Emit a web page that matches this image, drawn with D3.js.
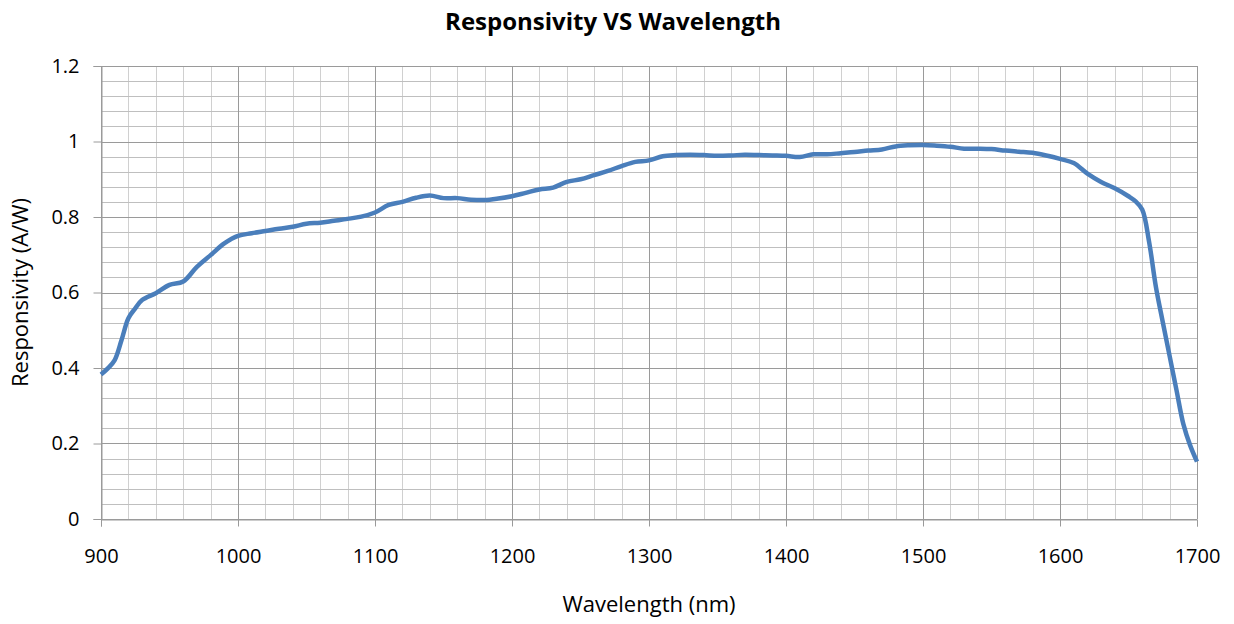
<!DOCTYPE html>
<html>
<head>
<meta charset="utf-8">
<script src="https://cdn.jsdelivr.net/npm/d3@7"></script>
<style>
  body { margin: 0; background: #fff; }
  svg { display: block; font-family: "Open Sans", sans-serif; }
  .title { font-size: 24px; font-weight: bold; fill: #000; }
  .axisTitle { font-size: 22px; fill: #000; }
</style>
</head>
<body>
<div id="chart"></div>
<script>
"use strict";

// wavelength (nm)
let wavelengths = [
  900, 905, 910, 915, 920, 925, 930, 940, 950, 960, 970, 980, 990, 1000,
  1010, 1020, 1030, 1040, 1050, 1060, 1070, 1080, 1090, 1100,
  1110, 1120, 1130, 1140, 1150, 1160, 1170, 1180, 1190, 1200,
  1210, 1220, 1230, 1240, 1250, 1260, 1270, 1280, 1290, 1300,
  1310, 1320, 1330, 1340, 1350, 1360, 1370, 1380, 1390, 1400,
  1410, 1420, 1430, 1440, 1450, 1460, 1470, 1480, 1490, 1500,
  1510, 1520, 1530, 1540, 1550, 1560, 1570, 1580, 1590, 1600,
  1610, 1620, 1630, 1640, 1650, 1655, 1660, 1665, 1670, 1675,
  1680, 1685, 1690, 1695, 1700
];

// responsivity (A/W)
let responsivity = [
  0.383, 0.399, 0.421, 0.474, 0.532, 0.558, 0.580, 0.598, 0.620, 0.629, 0.668, 0.699, 0.730, 0.750,
  0.757, 0.763, 0.769, 0.774, 0.782, 0.785, 0.790, 0.795, 0.801, 0.812,
  0.832, 0.840, 0.851, 0.857, 0.850, 0.850, 0.846, 0.845, 0.849, 0.855,
  0.864, 0.873, 0.878, 0.893, 0.900, 0.911, 0.922, 0.935, 0.946, 0.950,
  0.961, 0.964, 0.965, 0.964, 0.962, 0.963, 0.965, 0.964, 0.963, 0.962,
  0.959, 0.966, 0.966, 0.969, 0.972, 0.976, 0.979, 0.987, 0.990, 0.991,
  0.989, 0.986, 0.981, 0.981, 0.980, 0.976, 0.973, 0.970, 0.963, 0.954,
  0.943, 0.915, 0.893, 0.876, 0.855, 0.842, 0.820, 0.735, 0.615, 0.522,
  0.432, 0.342, 0.252, 0.195, 0.152
];

let xTicks = [900, 1000, 1100, 1200, 1300, 1400, 1500, 1600, 1700];
let yTicks = [0, 0.2, 0.4, 0.6, 0.8, 1, 1.2];

let chartTitle = "Responsivity VS Wavelength";
let xTitle = "Wavelength (nm)";
let yTitle = "Responsivity (A/W)";

let width = 1234;
let height = 624;
let margin = { top: 66, right: 37, bottom: 105, left: 101 };

let svg = d3.select("#chart").append("svg")
  .attr("width", width)
  .attr("height", height)
  .attr("viewBox", [0, 0, width, height].join(" "));

let x = d3.scaleLinear()
  .domain([900, 1700])
  .range([margin.left, width - margin.right]);

let y = d3.scaleLinear()
  .domain([0, 1.2])
  .range([height - margin.bottom, margin.top]);

let points = wavelengths.map((w, i) => ({ w: w, r: responsivity[i] }));

// minor grid: every 20 nm and every 0.04 A/W
let minorX = d3.range(900, 1701, 20).filter(v => v % 100 !== 0);
let minorY = d3.range(0, 31).map(v => v * 0.04).filter((v, i) => i % 5 !== 0);

let grid = svg.append("g");

grid.selectAll(".minorV")
  .data(minorX)
  .enter().append("line")
  .attr("x1", d => Math.round(x(d)) + 0.5)
  .attr("x2", d => Math.round(x(d)) + 0.5)
  .attr("y1", y(0))
  .attr("y2", y(1.2))
  .attr("stroke", "#d0d0d0");

grid.selectAll(".minorH")
  .data(minorY)
  .enter().append("line")
  .attr("x1", x(900))
  .attr("x2", x(1700))
  .attr("y1", d => Math.round(y(d)) + 0.5)
  .attr("y2", d => Math.round(y(d)) + 0.5)
  .attr("stroke", "#bfbfbf");

// major grid
grid.selectAll(".majorV")
  .data(xTicks)
  .enter().append("line")
  .attr("x1", d => Math.round(x(d)) + 0.5)
  .attr("x2", d => Math.round(x(d)) + 0.5)
  .attr("y1", y(0))
  .attr("y2", y(1.2))
  .attr("stroke", "#9a9a9a");

grid.selectAll(".majorH")
  .data(yTicks)
  .enter().append("line")
  .attr("x1", x(900))
  .attr("x2", x(1700))
  .attr("y1", d => Math.round(y(d)) + 0.5)
  .attr("y2", d => Math.round(y(d)) + 0.5)
  .attr("stroke", "#9a9a9a");

// axes
let xAxis = d3.axisBottom(x)
  .tickValues(xTicks)
  .tickSize(7)
  .tickPadding(22)
  .tickFormat(d3.format("d"));

let yAxis = d3.axisLeft(y)
  .tickValues(yTicks)
  .tickSize(8)
  .tickPadding(14)
  .tickFormat(d => d === 0 || d === 1 ? d3.format("d")(d) : d3.format(".1f")(d));

let gx = svg.append("g")
  .attr("transform", `translate(0, ${Math.round(y(0)) + 0.5})`)
  .call(xAxis);

let gy = svg.append("g")
  .attr("transform", `translate(${Math.round(x(900)) + 0.5}, 0)`)
  .call(yAxis);

[gx, gy].forEach(g => {
  g.select(".domain").attr("stroke", "#9a9a9a");
  g.selectAll(".tick line").attr("stroke", "#9a9a9a");
  g.selectAll(".tick text")
    .attr("fill", "#000")
    .style("font-family", "'Open Sans', sans-serif")
    .style("font-size", "20px");
});

// responsivity curve
let line = d3.line()
  .x(d => x(d.w))
  .y(d => y(d.r))
  .curve(d3.curveCatmullRom.alpha(0.5));

svg.append("path")
  .datum(points)
  .attr("fill", "none")
  .attr("stroke", "#4a7ebb")
  .attr("stroke-width", 4.5)
  .attr("stroke-linejoin", "round")
  .attr("d", line);

// titles
svg.append("text")
  .attr("class", "title")
  .attr("x", 613)
  .attr("y", 30)
  .style("text-anchor", "middle")
  .text(chartTitle);

svg.append("text")
  .attr("class", "axisTitle")
  .attr("x", (margin.left + width - margin.right) / 2)
  .attr("y", 612)
  .style("text-anchor", "middle")
  .text(xTitle);

svg.append("text")
  .attr("class", "axisTitle")
  .attr("transform", `translate(28, ${(margin.top + height - margin.bottom) / 2}) rotate(-90)`)
  .style("text-anchor", "middle")
  .text(yTitle);
</script>
</body>
</html>
